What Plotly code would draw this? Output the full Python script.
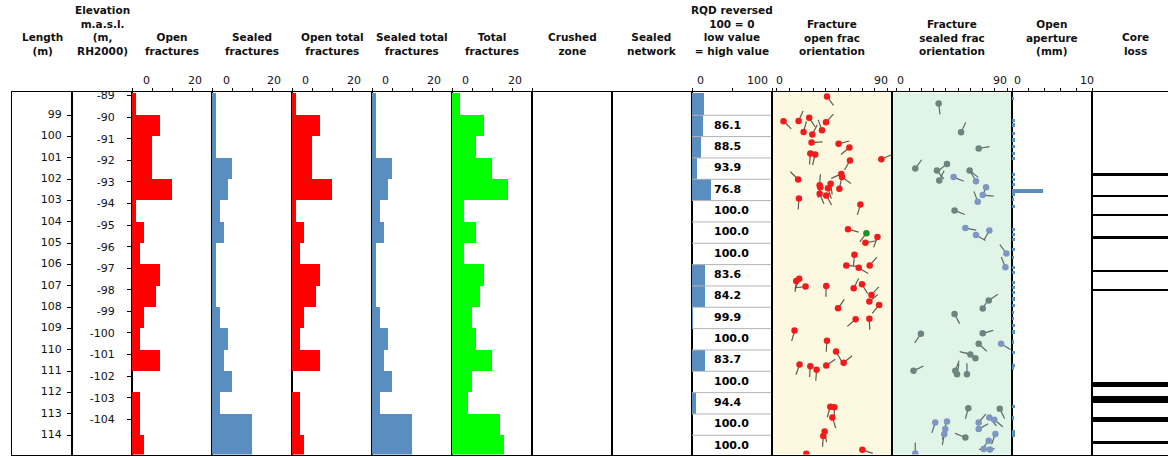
import math
import plotly.graph_objects as go

# ---------------- data ----------------
# 1 m core sections (top of section, m along hole)
section_top = list(range(98, 115))
open_fractures = [1, 7, 5, 5, 10, 1, 3, 2, 7, 6, 3, 2, 7, 0, 2, 2, 3]
sealed_fractures = [1, 1, 1, 5, 4, 2, 3, 1, 1, 1, 2, 4, 3, 5, 2, 10, 10]
open_total_fractures = [1, 7, 5, 5, 10, 1, 3, 2, 7, 6, 3, 2, 7, 0, 2, 2, 3]
sealed_total_fractures = [1, 1, 1, 5, 4, 2, 3, 1, 1, 1, 2, 4, 3, 5, 2, 10, 10]
total_fractures = [2, 8, 6, 10, 14, 3, 6, 3, 8, 7, 5, 6, 10, 5, 4, 12, 13]

rqd = [84.5, 86.1, 88.5, 93.9, 76.8, 100.0, 100.0, 100.0, 83.6, 84.2,
       99.9, 100.0, 83.7, 100.0, 94.4, 100.0, 100.0]
rqd_complete_run = [False] + [True] * 16

length_ticks = list(range(99, 115))
elevation_ticks = list(range(-89, -105, -1))
LENGTH_AT_MINUS_90 = 99.09      # hole length where elevation is -90 m
HOLE_M_PER_VERTICAL_M = 1.0114  # inclined hole

# open fractures: dip (deg), length (m), dip direction (deg)
open_dip = [40.9, 5.4, 17.7, 26.4, 40.1, 21.8, 28.9, 36.8, 28.3, 50.4, 59.2, 27.3, 31.3,
            59.7, 85.3, 17.4, 52.6, 53.2, 34.9, 35.4, 43.9, 41.7, 51.0, 34.9, 40.3, 18.0,
            68.2, 58.1, 72.3, 82.1, 63.3, 56.7, 66.8, 75.8, 15.8, 18.2, 23.4, 40.3, 62.7,
            69.5, 77.2, 75.5, 83.5, 49.9, 64.3, 75.5, 14.4, 40.9, 48.3, 54.5, 40.3, 18.5,
            27.3, 32.4, 43.6, 46.9, 45.3, 39.0, 37.9, 24.0, 69.8]
open_depth = [98.12, 99.28, 99.27, 99.12, 99.33, 99.78, 99.90, 99.70, 100.28, 100.34,
              100.51, 100.79, 100.84, 101.12, 101.06, 102.01, 101.75, 101.90, 102.28,
              102.37, 102.21, 102.42, 102.45, 102.68, 102.76, 102.90, 103.18, 104.34,
              104.98, 104.71, 105.54, 106.04, 106.15, 106.04, 106.77, 106.66, 107.03,
              107.00, 107.11, 106.92, 107.42, 107.73, 107.89, 108.05, 108.56, 108.54,
              109.09, 109.57, 110.07, 110.60, 110.73, 110.68, 110.76, 110.93, 112.66,
              112.69, 113.17, 113.82, 114.03, 114.86, 114.68]
open_dir = [144, 135, 24, 147, 42, 15, 27, 340, 86, 75, 230, 184, 194, 210, 66, 315, 246,
            126, 4, 191, 172, 162, 12, 157, 151, 184, 196, 106, 79, 200, 185, 95, 121, 41,
            186, 200, 264, 182, 27, 149, 42, 51, 219, 35, 229, 178, 195, 184, 151, 50, 55,
            199, 184, 184, 196, 180, 162, 170, 184, 180, 109]

# open fracture of another class
other_dip = [73.1]
other_depth = [104.53]
other_dir = [217]

# sealed fractures: dip, length, dip direction, class (0 = grey, 1 = blue)
sealed_dip = [34.1, 52.4, 66.8, 15.0, 32.7, 40.9, 34.6, 46.3, 59.4, 64.6, 72.8, 70.1, 66.0,
              47.1, 55.9, 64.6, 75.5, 89.4, 88.6, 75.0, 70.1, 47.1, 19.6, 70.1, 66.8, 85.1,
              60.0, 64.1, 13.6, 47.7, 49.1, 57.2, 58.3, 84.0, 31.3, 40.9, 39.5, 38.7, 55.9,
              66.8, 66.8, 75.5, 79.6, 80.4, 75.0, 70.9, 76.0, 15.0]
sealed_depth = [98.45, 99.80, 100.56, 101.50, 101.59, 101.28, 102.06, 101.90, 101.59,
                102.09, 102.37, 102.74, 103.05, 103.46, 104.29, 104.61, 104.40, 105.48,
                106.12, 107.68, 108.06, 108.31, 109.24, 109.22, 109.71, 109.71, 110.21,
                110.39, 110.98, 110.98, 111.14, 111.14, 112.73, 112.75, 113.40, 113.35,
                113.70, 113.95, 114.10, 113.40, 113.71, 113.16, 113.27, 113.94, 114.26,
                114.64, 114.66, 114.85]
sealed_dir = [173, 25, 80, 36, 141, 231, 26, 112, 129, 330, 202, 96, 340, 112, 101, 121, 209,
              324, 338, 56, 31, 153, 214, 74, 133, 121, 285, 300, 64, 20, 10, 0, 195, 154,
              198, 200, 195, 190, 292, 40, 60, 140, 130, 200, 220, 90, 270, 0]
sealed_class = [0, 0, 0, 0, 0, 0, 0, 1, 0, 1, 1, 1, 1, 0, 1, 1, 1, 1, 1, 0, 0, 0, 0, 0, 0, 1,
                0, 0, 0, 0, 0, 0, 0, 0, 1, 1, 1, 1, 0, 1, 1, 1, 1, 1, 1, 1, 1, 1]

# open aperture (mm) at fracture length
aperture_depth = [98.24, 99.25, 99.48, 99.87, 100.18, 100.49, 100.80, 101.04, 101.81, 102.04,
                  102.27, 102.57, 102.74, 102.97, 103.28, 104.37, 104.60, 104.83, 105.30,
                  105.69, 106.16, 106.39, 106.85, 107.09, 107.32, 107.63, 107.94, 108.25,
                  108.56, 108.88, 109.18, 109.65, 110.12, 110.73, 110.89, 112.67, 113.21,
                  113.84, 114.00]
aperture_mm = [0.3, 0.4, 0.4, 0.4, 0.4, 0.4, 0.4, 0.4, 0.4, 0.4, 0.4, 3.9, 0.4, 0.3, 0.4, 0.4,
               0.4, 0.4, 0.4, 0.3, 0.4, 0.4, 0.4, 0.4, 0.4, 0.4, 0.4, 0.3, 0.3, 0.4, 0.4, 0.3,
               0.4, 0.4, 0.3, 0.4, 0.3, 0.4, 0.4]

# core loss intervals (m)
core_loss_from = [101.71, 102.79, 103.69, 104.72, 106.25, 107.18, 111.50, 112.20, 113.17, 114.30]
core_loss_to = [101.85, 102.85, 103.75, 104.80, 106.37, 107.24, 111.74, 112.52, 113.41, 114.44]

# ---------------- layout constants ----------------
FIG_W, FIG_H = 1168, 457
TOP_PX, BOTTOM_PX = 90, 454.5
DEPTH_MIN, DEPTH_MAX = 97.93, 114.9
EDGES = [12, 72, 132, 212, 292, 372, 452, 532, 612, 692, 772, 892, 1012, 1092, 1178]
FONT = "DejaVu Sans"
RED, LIME, BLUE = "#ff0000", "#00ff00", "#5a8ec0"

TITLES = ["Length<br>(m)", "Elevation<br>m.a.s.l.<br>(m,<br>RH2000)", "Open<br>fractures",
          "Sealed<br>fractures", "Open total<br>fractures", "Sealed total<br>fractures",
          "Total<br>fractures", "Crushed<br>zone", "Sealed<br>network",
          "RQD reversed<br>100 = 0<br>low value<br>= high value",
          "Fracture<br>open frac<br>orientation", "Fracture<br>sealed frac<br>orientation",
          "Open<br>aperture<br>(mm)", "Core<br>loss"]
COUNT_RANGE = [0, 20]
ORIENT_RANGE = [-4, 94]
X_RANGES = [[0, 1], [0, 1], COUNT_RANGE, COUNT_RANGE, COUNT_RANGE, COUNT_RANGE, COUNT_RANGE,
            [0, 1], [0, 1], [0, 100], ORIENT_RANGE, ORIENT_RANGE, [0, 10], [0, 1]]
COUNT_TICKS = [0, 5, 10, 15, 20]
ORIENT_TICKS = list(range(0, 91, 10))
X_TICKS = [None, None, COUNT_TICKS, COUNT_TICKS, COUNT_TICKS, COUNT_TICKS, COUNT_TICKS,
           None, None, [0, 50, 100], ORIENT_TICKS, ORIENT_TICKS, [0, 2, 4, 6, 8, 10], None]
# top tick labels: (panel index, label, pixel centre)
TOP_LABELS = [(2, "0", 146), (2, "20", 195), (3, "0", 226), (3, "20", 274),
              (4, "0", 305), (4, "20", 354), (5, "0", 385), (5, "20", 434),
              (6, "0", 465), (6, "20", 515), (9, "0", 700), (9, "100", 757),
              (10, "0", 779), (10, "90", 881), (11, "0", 900), (11, "90", 1000),
              (12, "0", 1017), (12, "10", 1087)]


def px_x(px):
    return px / FIG_W


def px_y(py):
    return 1 - py / FIG_H


def ax(i, kind):
    return kind if i == 0 else f"{kind}{i + 1}"


fig = go.Figure()
layout = dict(
    width=FIG_W, height=FIG_H, margin=dict(l=0, r=0, t=0, b=0),
    paper_bgcolor="white", plot_bgcolor="white", showlegend=False,
    font=dict(family=FONT, size=11, color="#111111"),
    bargap=0, annotations=[], shapes=[],
)

y_dom = [px_y(BOTTOM_PX), px_y(TOP_PX)]
for i in range(14):
    left = EDGES[i]
    right = min(EDGES[i + 1], FIG_W)
    xa = dict(domain=[px_x(left), px_x(right)], anchor=ax(i, "y"), side="top",
              range=X_RANGES[i], showgrid=False, zeroline=False, showline=True,
              mirror=True, linecolor="black", linewidth=1, fixedrange=True,
              showticklabels=False)
    if X_TICKS[i]:
        xa.update(tickmode="array", tickvals=X_TICKS[i], ticks="outside", ticklen=3,
                  tickcolor="black", tickwidth=1)
    else:
        xa.update(ticks="")
    ya = dict(domain=y_dom, anchor=ax(i, "x"), range=[DEPTH_MAX, DEPTH_MIN],
              showgrid=False, zeroline=False, showline=True, mirror=(i != 13),
              linecolor="black", linewidth=1, fixedrange=True, showticklabels=False,
              ticks="")
    if i == 1:
        # length ticks; their labels are written in the Length column below
        ya.update(tickmode="array", tickvals=length_ticks, ticks="outside", ticklen=4,
                  tickcolor="black")
    if i == 2:
        elev_pos = [LENGTH_AT_MINUS_90 + (-90 - e) * HOLE_M_PER_VERTICAL_M
                    for e in elevation_ticks]
        ya.update(tickmode="array", tickvals=elev_pos,
                  ticktext=[str(e) for e in elevation_ticks], ticks="outside", ticklen=4,
                  tickcolor="black", showticklabels=True, ticklabelstandoff=10,
                  tickfont=dict(size=11, color="#111111"))
    layout["xaxis" if i == 0 else f"xaxis{i + 1}"] = xa
    layout["yaxis" if i == 0 else f"yaxis{i + 1}"] = ya

    # every column carries a trace so that its axes are rendered
    fig.add_trace(go.Scatter(x=[None], y=[None], mode="markers", xaxis=ax(i, "x"),
                             yaxis=ax(i, "y"), hoverinfo="skip"))

    centre = (EDGES[i] + EDGES[i + 1]) / 2
    layout["annotations"].append(dict(
        text=f"<b>{TITLES[i]}</b>", xref="paper", yref="paper", x=px_x(centre),
        y=px_y(56), xanchor="center", yanchor="bottom", showarrow=False,
        font=dict(size=10.5, family=FONT, color="#111111"), align="center"))

for panel, label, cx in TOP_LABELS:
    layout["annotations"].append(dict(
        text=label, xref="paper", yref="paper", x=px_x(cx), y=px_y(78),
        xanchor="center", yanchor="middle", showarrow=False,
        font=dict(size=11, family=FONT, color="#111111")))

# panel backgrounds for the orientation columns
for i, colour in ((10, "#fdf8e0"), (11, "#e0f5e8")):
    layout["shapes"].append(dict(type="rect", xref=f"x{i + 1} domain", yref=f"y{i + 1} domain",
                                 x0=0, x1=1, y0=0, y1=1, fillcolor=colour,
                                 line=dict(width=0), layer="below"))

# length labels, right-aligned inside the Length column
fig.add_trace(go.Scatter(x=[0.83] * len(length_ticks), y=length_ticks, mode="text",
                         text=[str(v) for v in length_ticks], textposition="middle left",
                         textfont=dict(family=FONT, size=11, color="#111111"),
                         xaxis="x", yaxis="y", hoverinfo="skip", cliponaxis=False))

section_mid = [t + 0.5 for t in section_top]


def hbar(values, colour, i, y=None, width=1.0):
    fig.add_trace(go.Bar(orientation="h", x=values, y=y if y is not None else section_mid,
                         width=width, marker=dict(color=colour, line=dict(width=0)),
                         xaxis=ax(i, "x"), yaxis=ax(i, "y"), hoverinfo="skip"))


hbar(open_fractures, RED, 2)
hbar(sealed_fractures, BLUE, 3)
hbar(open_total_fractures, RED, 4)
hbar(sealed_total_fractures, BLUE, 5)
hbar(total_fractures, LIME, 6)

# RQD reversed
sep_x, sep_y = [], []
for t in section_top[1:]:
    sep_x += [0, 100, None]
    sep_y += [t, t, None]
fig.add_trace(go.Scatter(x=sep_x, y=sep_y, mode="lines", line=dict(color="#b4b4b4", width=1),
                         xaxis="x10", yaxis="y10", hoverinfo="skip"))
hbar([100 - v for v in rqd], BLUE, 9)
lab_y = [m for m, ok in zip(section_mid, rqd_complete_run) if ok]
lab_t = [f"{v:.1f}" for v, ok in zip(rqd, rqd_complete_run) if ok]
fig.add_trace(go.Scatter(x=[27.5] * len(lab_y), y=lab_y, mode="text", text=lab_t,
                         textposition="middle right",
                         textfont=dict(family=FONT, size=11, color="black", weight="bold"),
                         xaxis="x10", yaxis="y10", hoverinfo="skip"))

# tadpoles
PX_PER_DEG = (EDGES[11] - EDGES[10]) / (ORIENT_RANGE[1] - ORIENT_RANGE[0])
PX_PER_M = (BOTTOM_PX - TOP_PX) / (DEPTH_MAX - DEPTH_MIN)
TAIL_PX = 11


def tadpoles(dips, depths, dirs, colour, i, tail_colour="#5c5c50"):
    tx, ty = [], []
    for d, z, a in zip(dips, depths, dirs):
        r = math.radians(a)
        tx += [d, d + TAIL_PX * math.sin(r) / PX_PER_DEG, None]
        ty += [z, z - TAIL_PX * math.cos(r) / PX_PER_M, None]
    fig.add_trace(go.Scatter(x=tx, y=ty, mode="lines",
                             line=dict(color=tail_colour, width=1.2),
                             xaxis=ax(i, "x"), yaxis=ax(i, "y"), hoverinfo="skip"))
    fig.add_trace(go.Scatter(x=dips, y=depths, mode="markers",
                             marker=dict(color=colour, size=6.5, line=dict(width=0)),
                             xaxis=ax(i, "x"), yaxis=ax(i, "y"), hoverinfo="skip"))


tadpoles(open_dip, open_depth, open_dir, "#f21a1a", 10)
tadpoles(other_dip, other_depth, other_dir, "#1e8f2a", 10)
for cls, colour in ((0, "#6d8580"), (1, "#7d96c2")):
    sel = [k for k, c in enumerate(sealed_class) if c == cls]
    tadpoles([sealed_dip[k] for k in sel], [sealed_depth[k] for k in sel],
             [sealed_dir[k] for k in sel], colour, 11, tail_colour="#5d6966")

# aperture
hbar(aperture_mm, BLUE, 12, y=aperture_depth, width=0.15)

# core loss
hbar([1] * len(core_loss_from), "black", 13,
     y=[(a + b) / 2 for a, b in zip(core_loss_from, core_loss_to)],
     width=[b - a for a, b in zip(core_loss_from, core_loss_to)])

fig.update_layout(**layout)
fig.write_html("out.html")
